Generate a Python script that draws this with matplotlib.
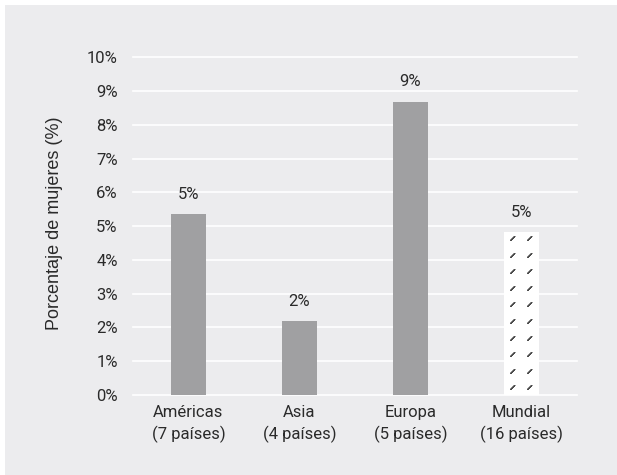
import numpy as np
import matplotlib
matplotlib.use('Agg')
import matplotlib.pyplot as plt
from matplotlib.patches import Rectangle

# share of women by region, in percent
regions = ['Américas\n(7 países)', 'Asia\n(4 países)', 'Europa\n(5 países)', 'Mundial\n(16 países)']
shares = [5.35, 2.18, 8.69, 4.82]
y_ticks = list(range(0, 11))

bg = '#ececee'
bar_gray = '#a0a0a2'
text_col = '#2a2a2a'

plt.rcParams['font.family'] = 'Roboto'

W, H, dpi = 617, 475, 100
fig = plt.figure(figsize=(W / dpi, H / dpi), dpi=dpi, facecolor='white')
fig.patches.append(Rectangle((5 / W, 0), 1 - 5 / W, 1 - 5 / H, transform=fig.transFigure,
                             facecolor=bg, edgecolor='none', zorder=-10))

left, right = 133 / W, 577 / W
bottom, top = 1 - 395 / H, 1 - 57.3 / H
ax = fig.add_axes([left, bottom, right - left, top - bottom])
ax.set_facecolor(bg)
ax.patch.set_alpha(0)

x = np.arange(len(regions))
width = 0.315
bars = ax.bar(x, shares, width=width, color=bar_gray, zorder=3)

# the world total gets a white bar with a small dash pattern
world = bars[-1]
world.set_facecolor('white')
bx, by = world.get_x(), world.get_y()
bw, bh = world.get_width(), world.get_height()

# build the dash texture at roughly screen resolution (row 0 = top of bar)
px_w = int(round(bw / len(regions) * (right - left) * W))
px_h = int(round(bh / 10 * (top - bottom) * H))
tex = np.ones((px_h, px_w, 4))
tex[..., 3] = 0
dark = (0.30, 0.30, 0.30, 1)
light = (0.60, 0.60, 0.60, 1)
dash = {(4, 0): dark, (4, 1): dark, (3, 1): dark, (3, 2): dark, (2, 2): dark,
        (2, 3): dark, (1, 3): dark, (1, 4): dark, (0, 4): dark, (0, 5): light,
        (3, 0): light, (2, 1): light, (1, 2): light, (0, 3): light}
step_x, step_y = 17, 16.6
for cx in (6, 6 + step_x):
    row = 0
    while True:
        cy = int(round(4 + row * step_y))
        if cy + 5 > px_h:
            break
        for (dy, dx), c in dash.items():
            yy, xx = cy + dy, cx + dx
            if 0 <= yy < px_h and 0 <= xx < px_w:
                tex[yy, xx] = c
        row += 1
img = ax.imshow(tex, extent=(bx, bx + bw, by, by + bh), origin='upper',
                interpolation='nearest', aspect='auto', zorder=4)
img.set_clip_path(world)
ax.set_xlim(-0.5, len(regions) - 0.5)
ax.set_ylim(0, 10)

for b, v in zip(bars, shares):
    ax.annotate('{:.0f}%'.format(v), (b.get_x() + b.get_width() / 2, v),
                xytext=(0, 9), textcoords='offset points', ha='center', va='bottom',
                fontsize=12, color=text_col)

ax.set_yticks(y_ticks)
ax.set_yticklabels(['{}%'.format(t) for t in y_ticks])
ax.set_xticks(x)
ax.set_xticklabels(regions, linespacing=1.45)
ax.tick_params(axis='both', length=0, labelsize=12, colors=text_col)
ax.tick_params(axis='y', pad=11)
ax.tick_params(axis='x', pad=7)

ax.yaxis.grid(True, color='white', linewidth=1.2, clip_on=False)
ax.set_axisbelow(True)
for s in ax.spines.values():
    s.set_visible(False)

ax.set_ylabel('Porcentaje de mujeres (%)', fontsize=13, color=text_col,
              family='Liberation Sans')
ax.yaxis.set_label_coords(-0.158, 0.509)

fig.savefig('out.png', dpi=dpi, facecolor=fig.get_facecolor())
